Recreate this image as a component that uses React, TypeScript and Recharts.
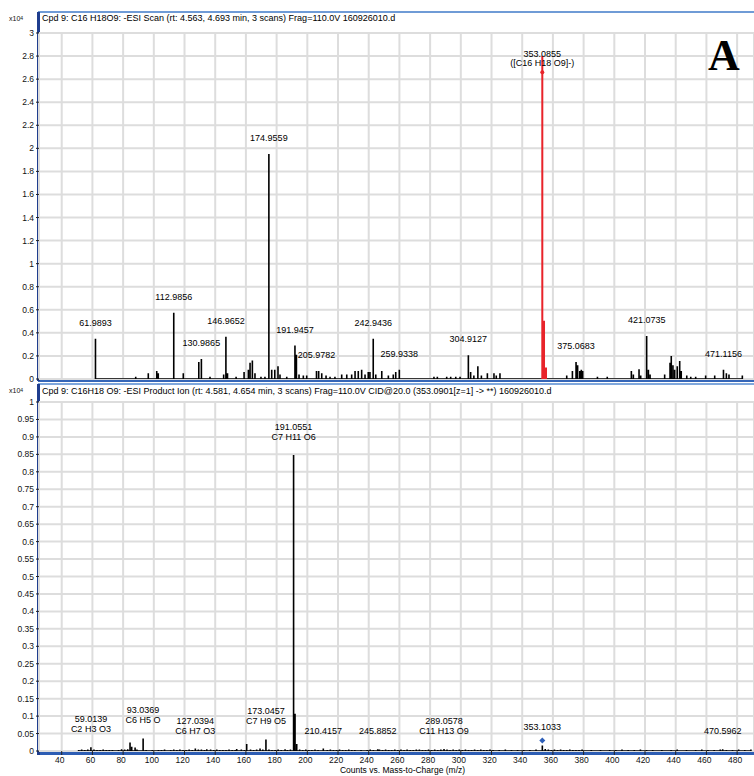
import React from 'react';
import { ComposedChart, Line, Scatter, XAxis, YAxis, CartesianGrid } from 'recharts';

type Peak = [number, number];

const xTicks = [40, 60, 80, 100, 120, 140, 160, 180, 200, 220, 240, 260, 280, 300, 320, 340, 360, 380, 400, 420, 440, 460, 480];
const topYTicks = [0, 0.2, 0.4, 0.6, 0.8, 1, 1.2, 1.4, 1.6, 1.8, 2, 2.2, 2.4, 2.6, 2.8, 3];
const bottomYTicks = [0, 0.05, 0.1, 0.15, 0.2, 0.25, 0.3, 0.35, 0.4, 0.45, 0.5, 0.55, 0.6, 0.65, 0.7, 0.75, 0.8, 0.85, 0.9, 0.95, 1];

const topTitle = 'Cpd 9: C16 H18O9: -ESI Scan (rt: 4.563, 4.693 min, 3 scans) Frag=110.0V 160926010.d';
const bottomTitle = 'Cpd 9: C16H18 O9: -ESI Product Ion (rt: 4.581, 4.654 min, 3 scans) Frag=110.0V CID@20.0 (353.0901[z=1] -> **) 160926010.d';
const xAxisTitle = 'Counts vs. Mass-to-Charge (m/z)';
const panelLetter = 'A';

// MS1 scan peaks (m/z, counts x10^4)
const topPeaks: Peak[] = [
  [61.9893, 0.35], [88.2, 0.02], [96.4, 0.05], [101.9, 0.07], [102.9, 0.05], [112.9856, 0.575], [119.2, 0.05],
  [129.3, 0.147], [130.9865, 0.173], [136.6, 0.02], [145.5, 0.04], [146.9652, 0.367], [148, 0.05], [153.6, 0.02],
  [158.8, 0.06], [161.6, 0.08], [162.7, 0.14], [164.2, 0.16], [165.9, 0.05], [169.8, 0.02], [172.4, 0.02],
  [174.9559, 1.95], [176.8, 0.08], [178.8, 0.08], [180.9, 0.11], [182.2, 0.04], [186.6, 0.02], [191.9457, 0.29],
  [192.9, 0.21], [194.6, 0.04], [197.4, 0.03], [199.6, 0.03], [205.9782, 0.07], [207.4, 0.07], [209.4, 0.05],
  [212.2, 0.03], [214.8, 0.02], [218, 0.02], [222.4, 0.04], [225.7, 0.04], [228.9, 0.04], [231.1, 0.07],
  [233.2, 0.07], [235.4, 0.08], [237.6, 0.04], [239.7, 0.06], [240.8, 0.06], [242.9436, 0.35], [244.6, 0.04],
  [248.5, 0.07], [252.8, 0.03], [256, 0.04], [257.6, 0.06], [259.9338, 0.08], [282.5, 0.02], [284.7, 0.02],
  [290.8, 0.02], [293.4, 0.02], [296.7, 0.02], [299.5, 0.02], [304.9127, 0.205], [306.4, 0.06], [308.5, 0.03],
  [311.1, 0.11], [313.4, 0.03], [317.3, 0.05], [321.6, 0.05], [323.1, 0.03], [325.5, 0.05], [369, 0.03],
  [372.7, 0.07], [375.0683, 0.147], [376.1, 0.12], [377.5, 0.07], [378.5, 0.08], [379.4, 0.07], [389, 0.02],
  [395.4, 0.02], [411.1, 0.07], [412.4, 0.04], [416.1, 0.085], [417.2, 0.03], [421.0735, 0.373], [422.2, 0.08],
  [423.3, 0.04], [432.8, 0.04], [436.3, 0.14], [437.1, 0.2], [438.2, 0.12], [439.3, 0.08], [441, 0.11],
  [442.6, 0.155], [443.6, 0.07], [447.2, 0.03], [449.8, 0.02], [453, 0.02], [459.5, 0.03], [465.4, 0.03],
  [471.1156, 0.08], [473, 0.05], [474.7, 0.04], [483.4, 0.03],
];
const topPrecursorPeaks: Peak[] = [[353.0855, 2.8], [354.2, 0.505], [355.5, 0.1]];
const topPrecursorMark = [{ mz: 353.0855, v: 2.66 }];

const topLabels = [
  { mz: 61.9893, v: 0.35, l1: '61.9893' },
  { mz: 112.9856, v: 0.575, l1: '112.9856' },
  { mz: 130.9865, v: 0.173, l1: '130.9865' },
  { mz: 146.9652, v: 0.367, l1: '146.9652' },
  { mz: 174.9559, v: 1.95, l1: '174.9559' },
  { mz: 191.9457, v: 0.29, l1: '191.9457' },
  { mz: 205.9782, v: 0.07, l1: '205.9782' },
  { mz: 242.9436, v: 0.35, l1: '242.9436' },
  { mz: 259.9338, v: 0.08, l1: '259.9338' },
  { mz: 304.9127, v: 0.205, l1: '304.9127' },
  { mz: 353.0855, v: 2.66, l1: '353.0855', l2: '([C16 H18 O9]-)' },
  { mz: 375.0683, v: 0.147, l1: '375.0683' },
  { mz: 421.0735, v: 0.373, l1: '421.0735' },
  { mz: 471.1156, v: 0.08, l1: '471.1156' },
];

// Product ion peaks (m/z, counts x10^4)
const bottomPeaks: Peak[] = [
  [51, 0.003], [53, 0.004], [55, 0.003], [57, 0.004], [59.0139, 0.011], [61, 0.004], [63, 0.003], [65, 0.003],
  [67, 0.004], [69, 0.003], [71, 0.003], [73, 0.003], [77, 0.003], [79, 0.005], [81, 0.004], [83, 0.005],
  [84.5, 0.024], [85.6, 0.012], [87.8, 0.01], [89, 0.004], [93.0369, 0.036], [95, 0.003], [99, 0.003],
  [103, 0.003], [105, 0.003], [107, 0.004], [111, 0.003], [113, 0.004], [115, 0.003], [117, 0.004], [119, 0.003],
  [121, 0.003], [123, 0.004], [125, 0.003], [127.0394, 0.007], [129, 0.004], [131, 0.004], [133, 0.003],
  [134.5, 0.005], [137, 0.004], [139, 0.003], [141, 0.004], [143, 0.003], [145, 0.003], [147, 0.003],
  [149, 0.004], [151, 0.003], [153, 0.003], [154, 0.006], [157, 0.004], [159, 0.003], [160.5, 0.02],
  [163, 0.004], [165, 0.003], [167, 0.004], [169.2, 0.007], [171, 0.004], [173.0457, 0.033], [175, 0.004],
  [177, 0.003], [179, 0.003], [181, 0.004], [183, 0.003], [185.5, 0.005], [187, 0.003], [189, 0.004],
  [191.0551, 0.848], [192, 0.107], [193.1, 0.02], [195, 0.004], [197, 0.003], [199, 0.004], [201, 0.003],
  [203, 0.003], [205, 0.004], [207, 0.003], [210.4157, 0.007], [213, 0.003], [215, 0.004], [217, 0.003],
  [219, 0.003], [221, 0.004], [223, 0.003], [225, 0.003], [227, 0.004], [229, 0.003], [231, 0.003], [235, 0.003],
  [239, 0.003], [241, 0.004], [243, 0.003], [245.8852, 0.005], [247, 0.004], [249, 0.003], [251, 0.004],
  [253, 0.003], [255, 0.003], [257, 0.004], [259, 0.003], [261, 0.004], [263, 0.003], [265, 0.004], [267, 0.003],
  [269, 0.003], [271, 0.004], [273, 0.004], [275, 0.003], [277, 0.003], [279, 0.004], [281, 0.003], [283, 0.004],
  [285, 0.003], [287, 0.004], [289.0578, 0.006], [291, 0.004], [293, 0.003], [295, 0.004], [297, 0.003],
  [299, 0.004], [301, 0.003], [303, 0.004], [305, 0.003], [307, 0.003], [309, 0.004], [311, 0.003], [313, 0.004],
  [315, 0.003], [317, 0.003], [319, 0.004], [321, 0.003], [325, 0.003], [329, 0.004], [333, 0.003], [337, 0.003],
  [341, 0.003], [345, 0.003], [349, 0.004], [353.1033, 0.016], [355, 0.006], [357, 0.004], [359, 0.003],
  [361, 0.004], [363, 0.003], [365, 0.004], [367, 0.003], [369, 0.003], [371, 0.004], [373, 0.003], [375, 0.003],
  [377, 0.003], [379, 0.004], [385, 0.003], [391, 0.003], [397, 0.003], [401, 0.003], [405, 0.004], [409, 0.003],
  [413, 0.003], [417, 0.004], [421, 0.003], [425, 0.003], [431, 0.003], [437, 0.003], [441, 0.004], [447, 0.003],
  [453, 0.003], [457, 0.004], [461, 0.003], [465, 0.003], [469, 0.004], [470.5962, 0.005], [473, 0.003],
  [477, 0.003], [481, 0.004], [485, 0.003], [489, 0.004],
];
const bottomPrecursorMark = [{ mz: 353.0901, v: 0.03 }];

const bottomLabels = [
  { mz: 59.0139, v: 0.011, l1: '59.0139', l2: 'C2 H3 O3' },
  { mz: 93.0369, v: 0.036, l1: '93.0369', l2: 'C6 H5 O' },
  { mz: 127.0394, v: 0.007, l1: '127.0394', l2: 'C6 H7 O3' },
  { mz: 173.0457, v: 0.033, l1: '173.0457', l2: 'C7 H9 O5' },
  { mz: 191.0551, v: 0.848, l1: '191.0551', l2: 'C7 H11 O6' },
  { mz: 210.4157, v: 0.007, l1: '210.4157' },
  { mz: 245.8852, v: 0.005, l1: '245.8852' },
  { mz: 289.0578, v: 0.006, l1: '289.0578', l2: 'C11 H13 O9' },
  { mz: 353.1033, v: 0.016, l1: '353.1033' },
  { mz: 470.5962, v: 0.005, l1: '470.5962' },
];

const FONT = '"Liberation Sans", Arial, sans-serif';
const GRID = '#dddddd';
const X_DOMAIN: [number, number] = [25.2, 491];

const toSticks = (peaks: Peak[]) =>
  [...peaks].sort((a, b) => a[0] - b[0]).flatMap(([mz, v]) => [
    { mz, v: 0 },
    { mz, v },
    { mz, v: 0 },
  ]);

const makeLabelShape = (single: number, first: number, second: number) => (p: any) => {
  const { cx, cy, payload } = p;
  const common = { textAnchor: 'middle' as const, fontSize: 9, fontFamily: FONT, fill: '#000' };
  if (payload.l2) {
    return (
      <g>
        <text x={cx} y={cy - first + 3} {...common}>{payload.l1}</text>
        <text x={cx} y={cy - second + 3} {...common}>{payload.l2}</text>
      </g>
    );
  }
  return <text x={cx} y={cy - single + 3} {...common}>{payload.l1}</text>;
};

const topLabelShape = makeLabelShape(16, 18, 9);
const bottomLabelShape = makeLabelShape(18, 28, 18);

const tickStyle = { fontSize: 8.5, fontFamily: FONT, fill: '#111' };

const abs = (s: React.CSSProperties): React.CSSProperties => ({ position: 'absolute', ...s });

const Exp = ({ top }: { top: number }) => (
  <div style={abs({ left: 9, top, fontSize: 7, fontFamily: FONT, color: '#111', lineHeight: '8px' })}>
    x10<sup style={{ fontSize: 5, verticalAlign: 'top', position: 'relative', top: -1 }}>4</sup>
  </div>
);

export default function App() {
  const topData = toSticks(topPeaks);
  const redData = toSticks(topPrecursorPeaks);
  const bottomData = toSticks(bottomPeaks);
  return (
    <div style={abs({ left: 0, top: 0, width: 754, height: 776, background: '#fff', overflow: 'hidden' })}>
      {/* frames */}
      <div style={abs({ left: 38, top: 11, width: 716, height: 2, background: '#6f9bd6' })} />
      <div style={abs({ left: 38, top: 380, width: 716, height: 2, background: '#3566b8' })} />
      <div style={abs({ left: 38, top: 383, width: 716, height: 1.5, background: '#7fa7dc' })} />
      <div style={abs({ left: 38, top: 752, width: 716, height: 3, background: '#2d5db3' })} />
      <div style={abs({ left: 37, top: 12, width: 3, height: 369, background: '#1f3d8e' })} />
      <div style={abs({ left: 37, top: 384, width: 3, height: 371, background: '#1f3d8e' })} />

      <div style={abs({ left: 42, top: 13, fontSize: 9, fontFamily: FONT, color: '#000', whiteSpace: 'nowrap', lineHeight: '10px' })}>{topTitle}</div>
      <div style={abs({ left: 42, top: 386, fontSize: 9, fontFamily: FONT, color: '#000', whiteSpace: 'nowrap', lineHeight: '10px' })}>{bottomTitle}</div>
      <Exp top={15} />
      <Exp top={387} />

      <div style={abs({ left: 0, top: 0 })}>
        <ComposedChart width={754} height={383} margin={{ top: 33, right: 0, bottom: 4, left: 0 }}>
          <CartesianGrid stroke={GRID} strokeWidth={2} />
          <XAxis type="number" dataKey="mz" domain={X_DOMAIN} ticks={xTicks} allowDataOverflow hide />
          <YAxis
            type="number"
            dataKey="v"
            domain={[0, 3]}
            ticks={topYTicks}
            interval={0}
            width={39}
            axisLine={false}
            tickLine={{ stroke: '#222' }}
            tickSize={3}
            tickMargin={2}
            tick={tickStyle}
            allowDataOverflow
          />
          <Line data={topData} dataKey="v" type="linear" stroke="#000" strokeWidth={1.6} dot={false} activeDot={false} isAnimationActive={false} />
          <Line data={redData} dataKey="v" type="linear" stroke="#e8232a" strokeWidth={2} dot={false} activeDot={false} isAnimationActive={false} />
          <Scatter data={topPrecursorMark} dataKey="v" isAnimationActive={false} shape={(p: any) => <circle cx={p.cx} cy={p.cy} r={2} fill="#e8232a" />} />
          <Scatter data={topLabels} dataKey="v" isAnimationActive={false} shape={topLabelShape} />
        </ComposedChart>
      </div>

      <div style={abs({ left: 0, top: 383 })}>
        <ComposedChart width={754} height={393} margin={{ top: 19, right: 0, bottom: 0, left: 0 }}>
          <CartesianGrid stroke={GRID} strokeWidth={2} />
          <XAxis
            type="number"
            dataKey="mz"
            domain={X_DOMAIN}
            ticks={xTicks}
            interval={0}
            allowDataOverflow
            height={25}
            axisLine={false}
            tickLine={{ stroke: '#222' }}
            tickSize={4}
            tickMargin={2}
            tick={{ ...tickStyle, dx: -2 }}
            label={{ value: xAxisTitle, position: 'insideBottom', offset: 3, fontSize: 8.5, fontFamily: FONT, fill: '#000', dx: 6 }}
          />
          <YAxis
            type="number"
            dataKey="v"
            domain={[0, 1]}
            ticks={bottomYTicks}
            interval={0}
            width={39}
            axisLine={false}
            tickLine={{ stroke: '#222' }}
            tickSize={3}
            tickMargin={2}
            tick={tickStyle}
            allowDataOverflow
          />
          <Line data={bottomData} dataKey="v" type="linear" stroke="#000" strokeWidth={1.6} dot={false} activeDot={false} isAnimationActive={false} />
          <Scatter
            data={bottomPrecursorMark}
            dataKey="v"
            isAnimationActive={false}
            shape={(p: any) => (
              <polygon points={`${p.cx},${p.cy - 3} ${p.cx + 3},${p.cy} ${p.cx},${p.cy + 3} ${p.cx - 3},${p.cy}`} fill="#2e5fb8" />
            )}
          />
          <Scatter data={bottomLabels} dataKey="v" isAnimationActive={false} shape={bottomLabelShape} />
        </ComposedChart>
      </div>

      <div style={abs({ left: 708, top: 34, fontSize: 44, fontWeight: 'bold', fontFamily: '"Liberation Serif", "Times New Roman", serif', color: '#000', lineHeight: '44px' })}>{panelLetter}</div>
    </div>
  );
}
